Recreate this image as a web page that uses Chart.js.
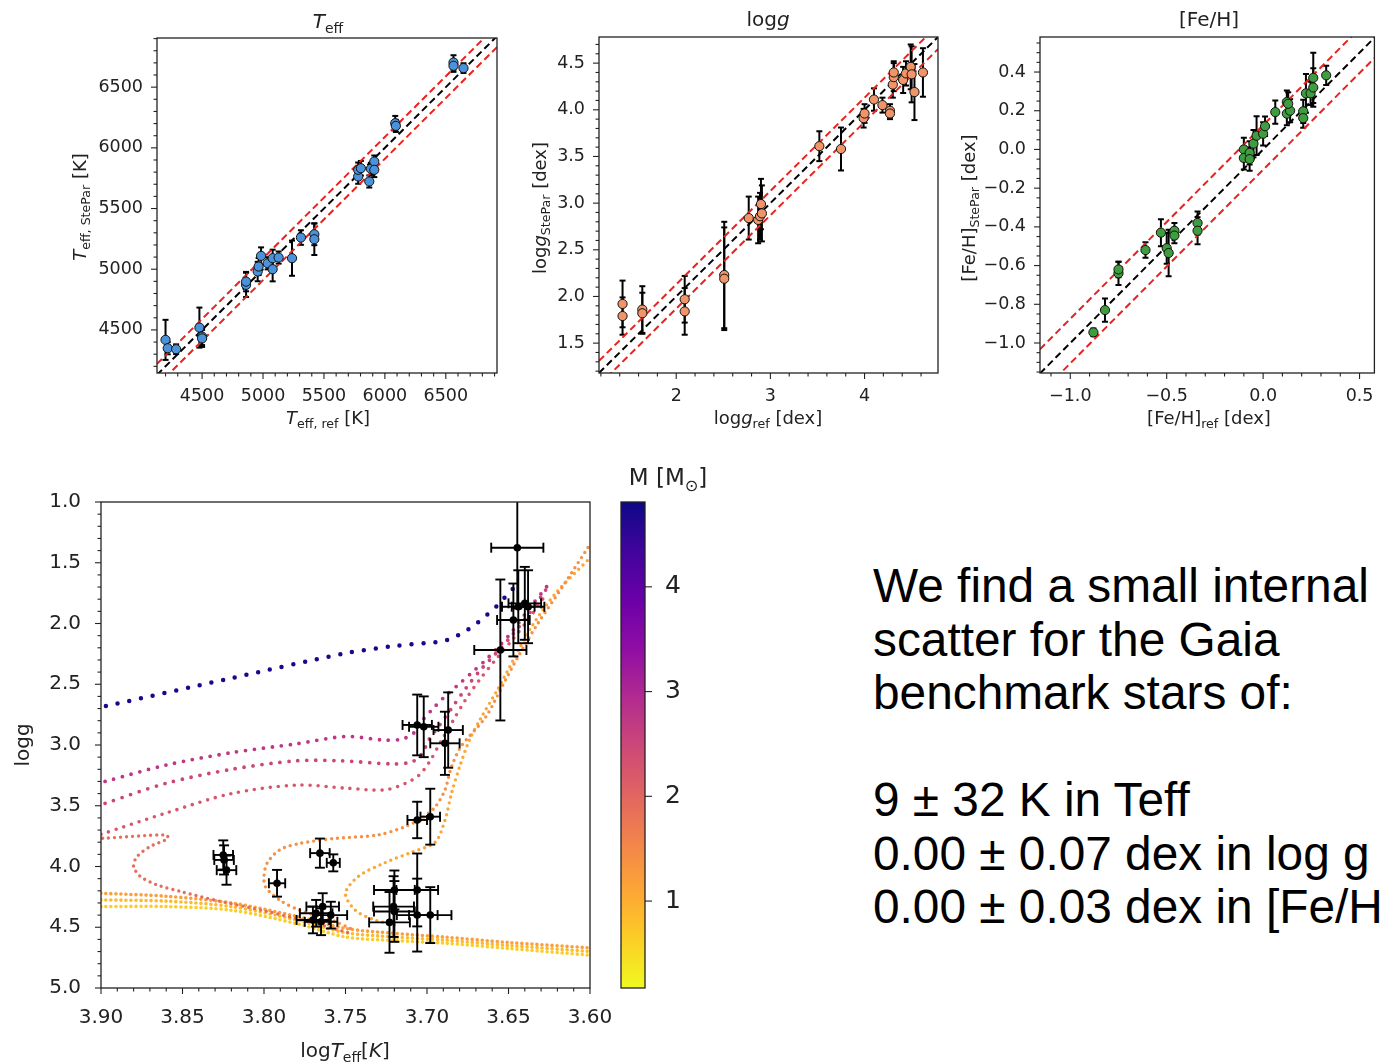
<!DOCTYPE html>
<html>
<head>
<meta charset="utf-8">
<script src="https://cdn.jsdelivr.net/npm/chart.js@4.4.1/dist/chart.umd.min.js"></script>
<style>
html,body{margin:0;padding:0;background:#fff;width:1380px;height:1063px;overflow:hidden;position:relative}
canvas{position:absolute}
#note{position:absolute;left:873px;top:559px;font-family:"Liberation Sans",Arial,sans-serif;font-size:47.8px;line-height:53.5px;color:#000;white-space:nowrap}
</style>
</head>
<body>
<canvas id="cTeff" style="left:0;top:0" width="520" height="440"></canvas>
<canvas id="cLogg" style="left:520px;top:0" width="430" height="440"></canvas>
<canvas id="cFeh" style="left:950px;top:0" width="430" height="440"></canvas>
<canvas id="cHR" style="left:0;top:460px" width="640" height="603"></canvas>
<canvas id="cBar" style="left:610px;top:460px" width="120" height="603"></canvas>
<div id="note">We find a small internal<br>scatter for the Gaia<br>benchmark stars of:<br><br>9 ± 32 K in Teff<br>0.00 ± 0.07 dex in log g<br>0.00 ± 0.03 dex in [Fe/H]</div>
<script>
// ---- Teff panel
const teffRef = [4200,4218,4287,4478,4500,4500,4861,4861,4956,4964,4984,5038,5079,5079,5128,5238,5311,5421,5421,5781,5781,5803,5872,5885,5913,5913,6085,6090,6563,6563,6645];
const teffPar = [4418,4349,4341,4519,4445,4430,4871,4898,4981,5022,5110,5049,5091,5000,5096,5091,5261,5288,5247,5764,5819,5832,5723,5827,5887,5819,6203,6181,6703,6676,6657];
const teffErr = [165,50,40,165,70,70,100,80,80,70,70,50,70,100,50,145,60,90,130,60,60,60,50,50,50,60,60,50,60,50,40];
const teffTicks = [4500,5000,5500,6000,6500];
const teffBand = [-90,0,90];

// ---- logg panel
const loggRef = [1.43,1.43,1.64,1.64,2.09,2.09,2.51,2.51,2.77,2.87,2.89,2.90,2.91,3.52,3.75,3.99,4.00,4.10,4.19,4.27,4.27,4.30,4.31,4.31,4.41,4.44,4.49,4.50,4.53,4.62];
const loggPar = [1.92,1.79,1.86,1.82,1.97,1.84,2.23,2.19,2.84,2.82,2.86,2.99,2.89,3.61,3.58,3.91,3.96,4.11,4.05,3.99,3.96,4.27,4.35,4.40,4.32,4.39,4.46,4.38,4.19,4.40];
const loggErr = [0.25,0.2,0.25,0.22,0.25,0.25,0.57,0.55,0.23,0.25,0.25,0.27,0.3,0.16,0.23,0.1,0.1,0.12,0.08,0.07,0.06,0.14,0.15,0.12,0.14,0.13,0.24,0.3,0.3,0.26];
const loggXTicks = [2,3,4];
const loggYTicks = [1.5,2.0,2.5,3.0,3.5,4.0,4.5];
const loggBand = [-0.13,0,0.13];

// ---- [Fe/H] panel
const fehRef = [-0.88,-0.82,-0.75,-0.75,-0.61,-0.53,-0.50,-0.49,-0.46,-0.46,-0.34,-0.34,-0.10,-0.10,-0.07,-0.07,-0.05,-0.034,0.0,0.01,0.063,0.123,0.123,0.14,0.13,0.208,0.208,0.222,0.246,0.26,0.26,0.327];
const fehPar = [-0.945,-0.83,-0.64,-0.62,-0.52,-0.43,-0.51,-0.535,-0.42,-0.445,-0.38,-0.42,0.0,-0.044,-0.018,-0.05,0.03,0.071,0.081,0.12,0.193,0.245,0.185,0.2,0.236,0.197,0.162,0.29,0.29,0.32,0.37,0.383];
const fehErr = [0.02,0.06,0.06,0.04,0.04,0.07,0.08,0.12,0.04,0.04,0.06,0.07,0.06,0.06,0.06,0.06,0.07,0.1,0.06,0.05,0.06,0.06,0.06,0.06,0.06,0.06,0.05,0.1,0.06,0.1,0.13,0.05];
const fehXTicks = [-1.0,-0.5,0.0,0.5];
const fehYTicks = [-1.0,-0.8,-0.6,-0.4,-0.2,0.0,0.2,0.4];
const fehBand = [-0.105,0,0.125];

// ---- HR diagram: stars
const hrLogT = [3.6446,3.655,3.647,3.644,3.640,3.638,3.706,3.702,3.687,3.689,3.706,3.698,3.8245,3.823,3.825,3.792,3.7657,3.7575,3.768,3.764,3.765,3.759,3.770,3.706,3.706,3.698,3.720,3.720,3.723,3.7205];
const hrLogg = [1.376,2.218,1.971,1.862,1.834,1.862,2.835,2.85,2.877,2.986,3.617,3.59,3.946,4.03,3.905,4.138,3.89,3.97,4.385,4.33,4.455,4.40,4.44,4.193,4.40,4.40,4.193,4.37,4.46,4.33];
const hrErrT = [0.016,0.016,0.01,0.01,0.01,0.01,0.009,0.009,0.009,0.009,0.006,0.006,0.006,0.006,0.006,0.005,0.006,0.004,0.01,0.01,0.01,0.01,0.01,0.0128,0.0125,0.013,0.0125,0.0125,0.0125,0.0125];
const hrErrG = [0.5,0.58,0.3,0.3,0.3,0.3,0.25,0.25,0.31,0.26,0.15,0.23,0.12,0.12,0.12,0.11,0.12,0.07,0.11,0.11,0.11,0.11,0.11,0.3,0.3,0.23,0.16,0.25,0.25,0.25];
const hrXTicks = [3.90,3.85,3.80,3.75,3.70,3.65,3.60];
const hrYTicks = [1.0,1.5,2.0,2.5,3.0,3.5,4.0,4.5,5.0];

// ---- HR diagram: evolutionary tracks (logTeff, logg), mass in Msun
const trk1T = [3.897,3.82,3.75,3.72,3.70,3.69,3.684,3.677,3.670,3.664,3.658,3.653,3.648,3.643];
const trk1G = [2.68,2.45,2.245,2.185,2.16,2.145,2.117,2.067,2.004,1.938,1.867,1.795,1.724,1.64];
const trk2T = [3.8975,3.86,3.82,3.78,3.75,3.726,3.715,3.708,3.703,3.697,3.689,3.681,3.673,3.664,3.656,3.648,3.638,3.625];
const trk2G = [3.30,3.165,3.063,2.99,2.93,2.96,2.95,2.90,2.80,2.71,2.60,2.506,2.41,2.30,2.19,2.07,1.89,1.67];
const trk3T = [3.8975,3.86,3.82,3.78,3.753,3.72,3.709,3.703,3.699,3.693,3.685,3.676,3.667,3.658,3.648,3.638,3.627];
const trk3G = [3.48,3.315,3.20,3.13,3.13,3.156,3.137,3.07,2.96,2.85,2.70,2.53,2.38,2.25,2.10,1.93,1.72];
const trk4T = [3.90,3.86,3.82,3.78,3.75,3.726,3.713,3.705,3.699,3.691,3.684,3.676,3.667,3.658,3.648,3.638,3.628];
const trk4G = [3.735,3.56,3.40,3.33,3.355,3.37,3.315,3.25,3.15,2.96,2.80,2.62,2.45,2.30,2.14,1.97,1.78];
const trk5T = [3.899,3.86,3.859,3.870,3.878,3.880,3.876,3.866,3.850,3.829,3.798,3.768,3.747];
const trk5G = [3.768,3.74,3.77,3.837,3.92,4.00,4.08,4.15,4.21,4.28,4.37,4.47,4.55];
const trk6T = [3.747,3.757,3.778,3.79,3.799,3.80,3.798,3.79,3.778,3.757,3.73,3.713,3.703,3.695,3.689,3.685,3.679,3.664,3.654,3.644,3.632,3.617,3.601];
const trk6G = [4.51,4.45,4.36,4.28,4.17,4.08,3.97,3.86,3.81,3.77,3.74,3.67,3.60,3.51,3.37,3.18,3.01,2.77,2.52,2.27,2.0,1.70,1.37];
const trk7T = [3.720,3.732,3.744,3.750,3.742,3.726,3.709,3.695,3.689,3.685,3.680,3.674,3.667,3.657,3.647,3.636,3.621,3.60];
const trk7G = [4.48,4.44,4.36,4.22,4.08,3.97,3.88,3.80,3.62,3.40,3.18,2.96,2.78,2.55,2.30,2.03,1.75,1.46];
const msT  = [3.90,3.86,3.82,3.78,3.75,3.72,3.69,3.65,3.60];
const ms1G = [4.22,4.245,4.30,4.41,4.51,4.55,4.58,4.625,4.67];
const ms2G = [4.275,4.285,4.33,4.44,4.545,4.58,4.605,4.65,4.70];
const ms3G = [4.33,4.33,4.36,4.47,4.58,4.61,4.63,4.675,4.73];
const trackMass = [4.7,2.75,2.5,2.25,1.9,1.4,1.1,1.2,0.85,0.65];

// ---- colour bar
const cbMin = 0.17, cbMax = 4.81;
const cbTicks = [1,2,3,4];

const plasmaStops = ['#0d0887','#41049d','#6a00a8','#8f0da4','#b12a90','#cc4778','#e16462','#f2844b','#fca636','#fcce25','#f0f921'];
function hex2rgb(h){ return [1,3,5].map(i => parseInt(h.substr(i,2),16)); }
function plasma(t){
  t = Math.max(0, Math.min(1, t));
  const f = t*10, i = Math.min(9, Math.floor(f)), r = f - i;
  const a = hex2rgb(plasmaStops[i]), b = hex2rgb(plasmaStops[i+1]);
  return 'rgb(' + a.map((v,k) => Math.round(v + (b[k]-v)*r)).join(',') + ')';
}
function massColor(m){ return plasma((cbMax - m)/(cbMax - cbMin)); }

const INK = '#222';
const FONT = 'DejaVu Sans';

function fmt(v, dec){ return v.toFixed(dec).replace('-', '\u2212'); }
function pts(xs, ys){ return xs.map((x,i) => ({x:x, y:ys[i]})); }

// text with italic / subscript pieces
function drawRich(ctx, t){
  const size = t.size || 18;
  const parts = t.segs.map(s => {
    const fs = s.sub ? size*0.7 : size;
    const font = (s.it ? 'italic ' : '') + fs + 'px "' + FONT + '"';
    ctx.font = font;
    return {t:s.t, font:font, w:ctx.measureText(s.t).width, dy: s.sub ? size*0.24 : 0};
  });
  const total = parts.reduce((a,p) => a + p.w, 0);
  ctx.save();
  ctx.translate(t.x, t.y);
  if (t.rot) ctx.rotate(-Math.PI/2);
  ctx.fillStyle = INK;
  ctx.textAlign = 'left';
  ctx.textBaseline = 'alphabetic';
  let cx = -total/2;
  parts.forEach(p => { ctx.font = p.font; ctx.fillText(p.t, cx, p.dy); cx += p.w; });
  ctx.restore();
}

// frame, major + minor ticks, titles, error bars
const decoCfg = {};
const decoPlugin = {
  id: 'deco',
  beforeDatasetsDraw(chart){ const c = decoCfg[chart.canvas.id]; if (c && c.eb && !c.eb.after) drawErr(chart, c.eb); },
  afterDatasetsDraw(chart){ const c = decoCfg[chart.canvas.id]; if (c && c.eb && c.eb.after) drawErr(chart, c.eb); },
  afterDraw(chart){
    const c = decoCfg[chart.canvas.id]; if (!c) return;
    const ctx = chart.ctx, a = chart.chartArea;
    ctx.save();
    ctx.strokeStyle = INK; ctx.lineWidth = 1.3;
    ctx.strokeRect(a.left, a.top, a.right - a.left, a.bottom - a.top);
    ctx.lineWidth = 1.1;
    const ticks = (scale, step, horiz) => {
      const lo = Math.min(scale.min, scale.max), hi = Math.max(scale.min, scale.max);
      const majors = scale.ticks.map(t => t.value);
      const put = (v, len) => {
        const p = scale.getPixelForValue(v);
        ctx.beginPath();
        if (horiz) { ctx.moveTo(p, a.bottom); ctx.lineTo(p, a.bottom + len); }
        else if (c.yRight) { ctx.moveTo(a.right, p); ctx.lineTo(a.right + len, p); }
        else { ctx.moveTo(a.left, p); ctx.lineTo(a.left - len, p); }
        ctx.stroke();
      };
      majors.forEach(v => put(v, c.major || 6));
      if (step) {
        for (let v = Math.ceil(lo/step - 1e-6)*step; v <= hi + 1e-9; v += step) {
          if (!majors.some(m => Math.abs(m - v) < step*0.01)) put(v, 3.5);
        }
      }
    };
    if (!c.noX) ticks(chart.scales.x, c.xMinor, true);
    ticks(chart.scales.y, c.yMinor, false);
    ctx.restore();
    (c.titles || []).forEach(t => drawRich(ctx, t));
  }
};
function drawErr(chart, e){
  const ctx = chart.ctx, xs = chart.scales.x, ys = chart.scales.y, a = chart.chartArea;
  ctx.save();
  ctx.beginPath(); ctx.rect(a.left, a.top, a.right - a.left, a.bottom - a.top); ctx.clip();
  ctx.strokeStyle = '#000'; ctx.lineWidth = e.width;
  const seg = (x1,y1,x2,y2) => { ctx.beginPath(); ctx.moveTo(x1,y1); ctx.lineTo(x2,y2); ctx.stroke(); };
  e.x.forEach((xv,i) => {
    const yv = e.y[i], px = xs.getPixelForValue(xv), py = ys.getPixelForValue(yv);
    if (e.ye) {
      const p1 = ys.getPixelForValue(yv - e.ye[i]), p2 = ys.getPixelForValue(yv + e.ye[i]);
      seg(px,p1,px,p2); seg(px-e.cap,p1,px+e.cap,p1); seg(px-e.cap,p2,px+e.cap,p2);
    }
    if (e.xe) {
      const q1 = xs.getPixelForValue(xv - e.xe[i]), q2 = xs.getPixelForValue(xv + e.xe[i]);
      seg(q1,py,q2,py); seg(q1,py-e.cap,q1,py+e.cap); seg(q2,py-e.cap,q2,py+e.cap);
    }
  });
  ctx.restore();
}
Chart.register(decoPlugin);

function axis(range, ticks, dec, size, pad, fit, extra){
  return Object.assign({
    type: 'linear', min: range[0], max: range[1],
    afterBuildTicks: s => { s.ticks = ticks.map(v => ({value: v})); },
    afterFit: fit,
    grid: {display: false}, border: {display: false},
    ticks: {font: {family: FONT, size: size}, color: INK, padding: pad, maxRotation: 0, autoSkip: false,
            callback: v => fmt(v, dec)}
  }, extra || {});
}

// one-to-one comparison panel
function compPanel(p){
  const lo = p.xr[0], hi = p.xr[1];
  const lines = p.band.map(off => ({
    type: 'scatter', showLine: true, order: 1,
    data: [{x: lo, y: lo + off}, {x: hi, y: hi + off}],
    borderColor: off === 0 ? '#000' : '#e8221e', borderWidth: 2, borderDash: [7, 4],
    pointRadius: 0
  }));
  decoCfg[p.id] = {xMinor: p.xMinor, yMinor: p.yMinor, titles: p.titles,
                   eb: {x: p.ref, y: p.par, ye: p.err, cap: 3, width: 2}};
  new Chart(document.getElementById(p.id), {
    type: 'scatter',
    data: {datasets: [{
      data: pts(p.ref, p.par), order: 0,
      backgroundColor: p.color, borderColor: '#111', borderWidth: 1, pointRadius: 4.6
    }].concat(lines)},
    options: {
      responsive: false, animation: false,
      layout: {padding: p.pad},
      plugins: {legend: {display: false}, tooltip: {enabled: false}},
      scales: {
        x: axis(p.xr, p.xTicks, p.xDec, 17.5, 5, s => { s.height = 67; }),
        y: axis(p.yr, p.yTicks, p.yDec, 17.5, 6, s => { s.width = p.yw; })
      }
    }
  });
}

compPanel({
  id: 'cTeff', ref: teffRef, par: teffPar, err: teffErr, band: teffBand, color: '#4a93dc',
  xr: [4130, 6920], yr: [4145, 6905], xTicks: teffTicks, yTicks: teffTicks, xDec: 0, yDec: 0,
  xMinor: 100, yMinor: 100, yw: 157, pad: {left: 0, right: 23, top: 38, bottom: 0},
  titles: [
    {segs: [{t:'T', it:1}, {t:'eff', sub:1}], x: 328, y: 28, size: 20},
    {segs: [{t:'T', it:1}, {t:'eff, ref', sub:1}, {t:' [K]'}], x: 328, y: 424},
    {segs: [{t:'T', it:1}, {t:'eff, StePar', sub:1}, {t:' [K]'}], x: 86, y: 207, rot: 1}
  ]
});
compPanel({
  id: 'cLogg', ref: loggRef, par: loggPar, err: loggErr, band: loggBand, color: '#f0956a',
  xr: [1.18, 4.78], yr: [1.18, 4.78], xTicks: loggXTicks, yTicks: loggYTicks, xDec: 0, yDec: 1,
  xMinor: 0.2, yMinor: 0.1, yw: 79, pad: {left: 0, right: 12, top: 37, bottom: 0},
  titles: [
    {segs: [{t:'log'}, {t:'g', it:1}], x: 248, y: 26, size: 20},
    {segs: [{t:'log'}, {t:'g', it:1}, {t:'ref', sub:1}, {t:' [dex]'}], x: 248, y: 424},
    {segs: [{t:'log'}, {t:'g', it:1}, {t:'StePar', sub:1}, {t:' [dex]'}], x: 26, y: 208, rot: 1}
  ]
});
compPanel({
  id: 'cFeh', ref: fehRef, par: fehPar, err: fehErr, band: fehBand, color: '#3f9c3f',
  xr: [-1.157, 0.577], yr: [-1.155, 0.581], xTicks: fehXTicks, yTicks: fehYTicks, xDec: 1, yDec: 1,
  xMinor: 0.1, yMinor: 0.05, yw: 90, pad: {left: 0, right: 2, top: 37, bottom: 0},
  titles: [
    {segs: [{t:'[Fe/H]'}], x: 259, y: 26, size: 20},
    {segs: [{t:'[Fe/H]'}, {t:'ref', sub:1}, {t:' [dex]'}], x: 259, y: 424},
    {segs: [{t:'[Fe/H]'}, {t:'StePar', sub:1}, {t:' [dex]'}], x: 25, y: 208, rot: 1}
  ]
});

// ---- HR diagram
const tracks = [
  [trk1T, trk1G, 12, 4.5], [trk2T, trk2G, 9, 3.8], [trk3T, trk3G, 9, 3.8], [trk4T, trk4G, 8, 3.6],
  [trk5T, trk5G, 6, 3.4], [trk6T, trk6G, 6, 3.4], [trk7T, trk7G, 6, 3.4],
  [msT, ms1G, 5, 3.6], [msT, ms2G, 5, 3.6], [msT, ms3G, 5, 3.6]
];
const trackSets = tracks.map((t, i) => ({
  type: 'scatter', showLine: true, order: 2,
  data: pts(t[0], t[1]),
  borderColor: massColor(trackMass[i]), borderWidth: t[3], borderDash: [0, t[2]], borderCapStyle: 'round',
  tension: 0.3, pointRadius: 0
}));
decoCfg.cHR = {
  xMinor: 0.01, yMinor: 0.1,
  eb: {x: hrLogT, y: hrLogg, xe: hrErrT, ye: hrErrG, cap: 5, width: 1.9, after: true},
  titles: [
    {segs: [{t:'log'}, {t:'T', it:1}, {t:'eff', sub:1}, {t:'['}, {t:'K', it:1}, {t:']'}], x: 345, y: 597, size: 20},
    {segs: [{t:'logg'}], x: 29, y: 285, size: 20, rot: 1}
  ]
};
new Chart(document.getElementById('cHR'), {
  type: 'scatter',
  data: {datasets: [{
    data: pts(hrLogT, hrLogg), order: 0,
    backgroundColor: '#000', borderColor: '#000', borderWidth: 0, pointRadius: 3.8
  }].concat(trackSets)},
  options: {
    responsive: false, animation: false,
    layout: {padding: {left: 0, right: 50, top: 42, bottom: 0}},
    plugins: {legend: {display: false}, tooltip: {enabled: false}},
    scales: {
      x: axis([3.60, 3.90], hrXTicks, 2, 20, 10, s => { s.height = 75; }, {reverse: true}),
      y: axis([1.0, 5.0], hrYTicks, 1, 20, 12, s => { s.width = 101; }, {reverse: true})
    }
  }
});

// ---- colour bar
decoCfg.cBar = {
  noX: true, yRight: true, major: 7,
  titles: [{segs: [{t:'M [M'}, {t:'\u2299', sub:1}, {t:']'}], x: 58, y: 25, size: 23}]
};
new Chart(document.getElementById('cBar'), {
  type: 'scatter',
  data: {datasets: []},
  plugins: [{
    id: 'cbFill',
    beforeDraw(chart){
      const a = chart.chartArea, ctx = chart.ctx;
      const g = ctx.createLinearGradient(0, a.top, 0, a.bottom);
      plasmaStops.forEach((c, i) => g.addColorStop(i/10, c));
      ctx.fillStyle = g;
      ctx.fillRect(a.left, a.top, a.right - a.left, a.bottom - a.top);
    }
  }],
  options: {
    responsive: false, animation: false,
    layout: {padding: {left: 11, right: 0, top: 42, bottom: 75}},
    plugins: {legend: {display: false}, tooltip: {enabled: false}},
    scales: {
      x: {display: false, min: 0, max: 1},
      y: axis([cbMin, cbMax], cbTicks, 0, 25, 12, s => { s.width = 85; }, {position: 'right'})
    }
  }
});
</script>
</body>
</html>
